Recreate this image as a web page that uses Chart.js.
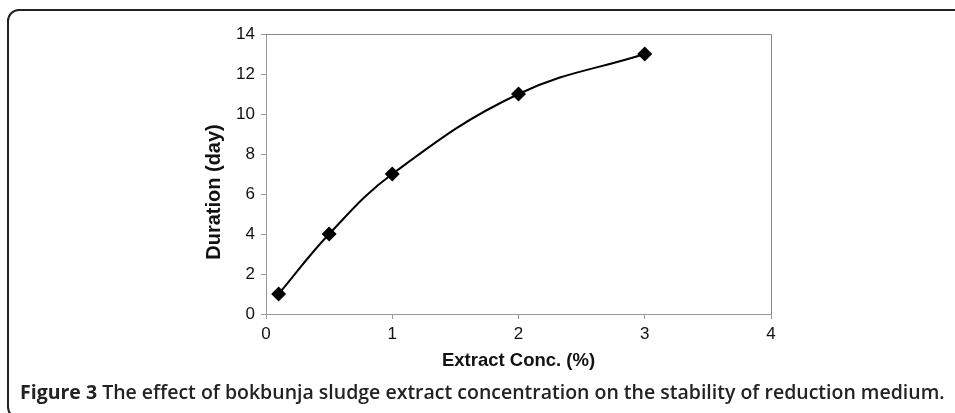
<!DOCTYPE html>
<html>
<head>
<meta charset="utf-8">
<script src="https://cdn.jsdelivr.net/npm/chart.js@4/dist/chart.umd.min.js"></script>
<style>
  html, body { margin: 0; padding: 0; background: #fff; }
  body { width: 955px; height: 413px; position: relative; overflow: hidden; }
  #chart { position: absolute; left: 0; top: 0; }
  .frame {
    position: absolute; left: 7px; top: 9px; width: 1000px; height: 410px;
    box-sizing: border-box; border: 2px solid #222; border-radius: 12px;
    pointer-events: none;
  }
  .caption {
    position: absolute; left: 20px; top: 379px; white-space: nowrap;
    font-family: "Open Sans", sans-serif; font-size: 19.5px; line-height: 26px;
    font-weight: 600; color: #222;
  }
  .caption b { font-weight: 700; }
</style>
</head>
<body>
<canvas id="chart" width="955" height="413"></canvas>
<div class="frame"></div>
<div class="caption"><b>Figure 3</b> The effect of bokbunja sludge extract concentration on the stability of reduction medium.</div>

<script>
// Data
const concValues = [0.1, 0.5, 1, 2, 3];      // Extract Conc. (%)
const durationDays = [1, 4, 7, 11, 13];      // Duration (day)
const xTicks = [0, 1, 2, 3, 4];
const yTicks = [0, 2, 4, 6, 8, 10, 12, 14];

const axisGray = '#999';
const textColor = '#111';

// top + right border of the plot box
const plotBox = {
    id: 'plotBox',
    beforeDatasetsDraw(chart) {
        const { ctx, chartArea } = chart;
        ctx.save();
        ctx.strokeStyle = '#888';
        ctx.lineWidth = 1;
        ctx.beginPath();
        ctx.moveTo(chartArea.left, chartArea.top + 0.5);
        ctx.lineTo(chartArea.right + 0.5, chartArea.top + 0.5);
        ctx.lineTo(chartArea.right + 0.5, chartArea.bottom);
        ctx.stroke();
        ctx.restore();
    }
};

// y axis title, sits a bit below the middle like in the original figure
const yTitle = {
    id: 'yTitle',
    afterDraw(chart) {
        const { ctx } = chart;
        ctx.save();
        ctx.translate(214, 192);
        ctx.rotate(-Math.PI / 2);
        ctx.font = 'bold 20px "Liberation Sans", Arial, sans-serif';
        ctx.fillStyle = textColor;
        ctx.textAlign = 'center';
        ctx.textBaseline = 'middle';
        ctx.fillText('Duration (day)', 0, 0);
        ctx.restore();
    }
};

function initChart() {
    const ctx = document.getElementById('chart');
    new Chart(ctx, {
        type: 'line',
        data: {
            datasets: [{
                data: concValues.map((c, i) => ({ x: c, y: durationDays[i] })),
                borderColor: '#000',
                borderWidth: 2,
                backgroundColor: '#000',
                pointStyle: 'rectRot',
                pointRadius: 7.5,
                pointBorderWidth: 0,
                tension: 0.4,
                fill: false
            }]
        },
        options: {
            responsive: false,
            animation: false,
            layout: {
                padding: { left: 198, right: 184, top: 34, bottom: 39 }
            },
            plugins: {
                legend: { display: false },
                tooltip: { enabled: false }
            },
            scales: {
                x: {
                    type: 'linear',
                    min: 0,
                    max: 4,
                    afterFit: scale => { scale.height = 60; },
                    afterBuildTicks: scale => { scale.ticks = xTicks.map(v => ({ value: v })); },
                    grid: { drawOnChartArea: false, tickLength: 5, color: axisGray },
                    border: { color: axisGray },
                    ticks: {
                        padding: 5,
                        color: textColor,
                        font: { family: 'Liberation Sans', size: 17 }
                    },
                    title: {
                        display: true,
                        text: 'Extract Conc. (%)',
                        color: textColor,
                        padding: { top: 4, bottom: 2 },
                        font: { family: 'Liberation Sans', size: 18.5, weight: 'bold' }
                    }
                },
                y: {
                    min: 0,
                    max: 14,
                    afterFit: scale => { scale.width = 68; },
                    afterBuildTicks: scale => { scale.ticks = yTicks.map(v => ({ value: v })); },
                    grid: { drawOnChartArea: false, tickLength: 5, color: axisGray },
                    border: { color: axisGray },
                    ticks: {
                        padding: 6,
                        color: textColor,
                        font: { family: 'Liberation Sans', size: 17 }
                    },
                    title: { display: false }
                }
            }
        },
        plugins: [plotBox, yTitle]
    });
}

document.addEventListener('DOMContentLoaded', initChart);
</script>
</body>
</html>
